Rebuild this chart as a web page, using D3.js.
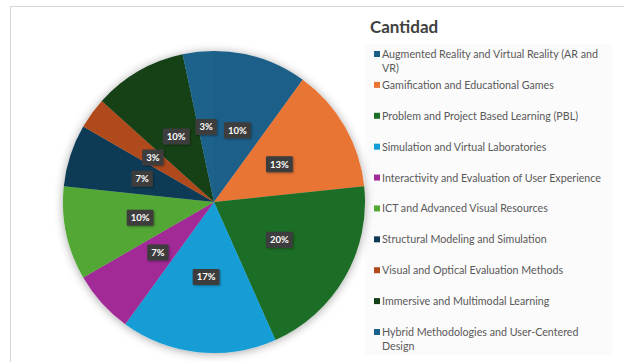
<!DOCTYPE html>
<html>
<head>
<meta charset="utf-8">
<script src="https://cdn.jsdelivr.net/npm/d3@7/dist/d3.min.js"></script>
<style>
  html, body { margin: 0; padding: 0; background: #ffffff; }
  svg { display: block; }
</style>
</head>
<body>
<svg id="chart" width="624" height="362"></svg>
<script>
// Number of studies per methodology category
const categories = [
  "Augmented Reality and Virtual Reality (AR and VR)",
  "Gamification and Educational Games",
  "Problem and Project Based Learning (PBL)",
  "Simulation and Virtual Laboratories",
  "Interactivity and Evaluation of User Experience",
  "ICT and Advanced Visual Resources",
  "Structural Modeling and Simulation",
  "Visual and Optical Evaluation Methods",
  "Immersive and Multimodal Learning",
  "Hybrid Methodologies and User-Centered Design"
];
const counts = [3, 4, 6, 5, 2, 3, 2, 1, 3, 1];
const colors = [
  "#1b5f88", "#e97434", "#1b6e26", "#139dd6", "#a12c97",
  "#52a834", "#0f3a57", "#b04a1b", "#123f17", "#1a628b"
];
const legendTitle = "Cantidad";

const svg = d3.select("#chart");

// outer frame
svg.append("rect")
  .attr("x", 10.5).attr("y", 6.5)
  .attr("width", 700).attr("height", 500)
  .attr("fill", "#ffffff")
  .attr("stroke", "#d6d6d6").attr("stroke-width", 1);

const defs = svg.append("defs");
const pieShadow = defs.append("filter").attr("id", "pieShadow")
  .attr("x", "-20%").attr("y", "-20%").attr("width", "140%").attr("height", "140%");
pieShadow.append("feDropShadow")
  .attr("dx", 0).attr("dy", 1).attr("stdDeviation", 5)
  .attr("flood-color", "#000").attr("flood-opacity", 0.35);

const tagShadow = defs.append("filter").attr("id", "tagShadow")
  .attr("x", "-30%").attr("y", "-40%").attr("width", "160%").attr("height", "180%");
tagShadow.append("feDropShadow")
  .attr("dx", 1).attr("dy", 1).attr("stdDeviation", 1)
  .attr("flood-color", "#000").attr("flood-opacity", 0.35);

// legend backdrop
svg.append("rect")
  .attr("x", 365).attr("y", 44)
  .attr("width", 248).attr("height", 311)
  .attr("fill", "#fbfbfb");

// pie
const cx = 214, cy = 202, R = 151;
const total = d3.sum(counts);
const data = categories.map((c, i) => ({ name: c, value: counts[i], color: colors[i] }));

const pie = d3.pie().value(d => d.value).sort(null);
const arcs = pie(data);
const arc = d3.arc().innerRadius(0).outerRadius(R);
const labelArc = d3.arc().innerRadius(R * 0.5).outerRadius(R * 0.5);

const g = svg.append("g").attr("transform", `translate(${cx},${cy})`);
g.append("g").attr("filter", "url(#pieShadow)")
  .selectAll("path")
  .data(arcs)
  .join("path")
  .attr("d", arc)
  .attr("fill", d => d.data.color);

// percentage tags
const fmt = d => Math.round(d.data.value / total * 100) + "%";
const tags = g.append("g").selectAll("g")
  .data(arcs)
  .join("g")
  .attr("transform", d => `translate(${labelArc.centroid(d)})`);

tags.each(function(d) {
  const t = d3.select(this);
  const txt = t.append("text")
    .attr("text-anchor", "middle")
    .attr("dy", "0.35em")
    .attr("fill", "#ffffff")
    .attr("font-family", "Lato, 'Open Sans', sans-serif")
    .attr("font-weight", "bold")
    .attr("font-size", 9.5)
    .text(fmt(d));
  const w = txt.node().getComputedTextLength() + 8;
  t.insert("rect", "text")
    .attr("x", -w / 2).attr("y", -8)
    .attr("width", w).attr("height", 16)
    .attr("rx", 1)
    .attr("fill", "#3d3d3d")
    .attr("filter", "url(#tagShadow)");
});

// legend
svg.append("text")
  .attr("x", 370).attr("y", 33)
  .attr("font-family", "Lato, 'Open Sans', sans-serif")
  .attr("font-weight", "bold")
  .attr("font-size", 17)
  .attr("fill", "#404040")
  .text(legendTitle);

const rowY = d3.scalePoint().domain(d3.range(categories.length)).range([54, 332]);
const maxW = 228;

const items = svg.append("g").selectAll("g")
  .data(data)
  .join("g")
  .attr("transform", (d, i) => `translate(374,${rowY(i)})`);

items.append("rect")
  .attr("x", 0).attr("y", -3)
  .attr("width", 6).attr("height", 6)
  .attr("fill", d => d.color);

items.each(function(d) {
  const t = d3.select(this).append("text")
    .attr("x", 8)
    .attr("font-family", "Lato, 'Open Sans', sans-serif")
    .attr("font-size", 10.7)
    .attr("fill", "#595959");
  const words = d.name.split(" ");
  let line = [];
  let lineNo = 0;
  let ts = t.append("tspan").attr("x", 8).attr("y", 4);
  words.forEach(w => {
    line.push(w);
    ts.text(line.join(" "));
    if (ts.node().getComputedTextLength() > maxW && line.length > 1) {
      line.pop();
      ts.text(line.join(" "));
      line = [w];
      lineNo++;
      ts = t.append("tspan").attr("x", 8).attr("y", 4 + lineNo * 13.5).text(w);
    }
  });
});
</script>
</body>
</html>
